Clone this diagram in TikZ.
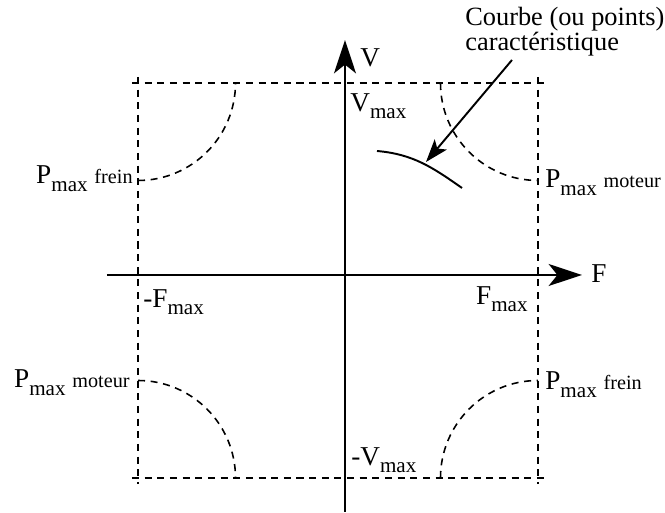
\documentclass[tikz,border=0pt]{standalone}
\usepackage{fontspec}
\setmainfont{Liberation Serif}
\usetikzlibrary{arrows.meta,positioning,calc}
\newcommand{\mx}{\raisebox{-4pt}{\fontsize{12}{12}\selectfont max}}
\newcommand{\pmx}[1]{P\mx\ \raisebox{0.5pt}{\fontsize{11.5}{12}\selectfont #1}}
\tikzset{
  axe/.style={-{Stealth[length=19pt,width=12.5pt,inset=5pt]},line width=1.1pt},
  cadre/.style={line width=0.9pt,dash pattern=on 4pt off 3.2pt},
  crb/.style={line width=1.1pt},
  fl/.style={-{Stealth[length=13pt,width=9pt,inset=3pt]},line width=1.1pt},
  lbl/.style={inner sep=0pt,font=\fontsize{15.5}{18}\selectfont}
}
\begin{document}
\begin{tikzpicture}
\useasboundingbox (-6.9,-4.76) rectangle (6.4,5.5);
% axes
\coordinate (xg) at (-4.76,0); \coordinate (xd) at (4.74,0);
\coordinate (yb) at (0,-4.74); \coordinate (yh) at (0,4.7);
\draw[axe] (xg) -- (xd);
\draw[axe] (yb) -- (yh);
% cadre
\coordinate (hg) at (-4.14,3.84); \coordinate (hd) at (3.86,3.84);
\coordinate (bg) at (-4.14,-4.06); \coordinate (bd) at (3.86,-4.06);
\draw[cadre] ($(hg)+(-0.12,0)$) -- ($(hd)+(0.12,0)$);
\draw[cadre] ($(bg)+(-0.12,0)$) -- ($(bd)+(0.12,0)$);
\draw[cadre] ($(hg)+(0,0.12)$) -- ($(bg)+(0,-0.12)$);
\draw[cadre] ($(hd)+(0,0.12)$) -- ($(bd)+(0,-0.12)$);
% puissance max
\draw[cadre] ($(hg)+(0,-1.95)$) arc[start angle=-90,end angle=0,radius=1.95];
\draw[cadre] ($(hd)+(-1.95,0)$) arc[start angle=180,end angle=270,radius=1.95];
\draw[cadre] ($(bg)+(0,1.95)$) arc[start angle=90,end angle=0,radius=1.95];
\draw[cadre] ($(bd)+(-1.95,0)$) arc[start angle=180,end angle=90,radius=1.95];
% labels
\node[lbl,anchor=west] (F) at (4.92,0.02) {F};
\node[lbl,anchor=west] (V) at (0.3,4.34) {V};
\node[lbl,anchor=north west] (Vmax) at (0.1,3.64) {V\mx};
\node[lbl,anchor=north west] (mVmax) at (0.12,-3.44) {-V\mx};
\node[lbl,anchor=north west] (mFmax) at (-4.04,-0.28) {-F\mx};
\node[lbl,anchor=north east] (Fmax) at (3.66,-0.22) {F\mx};
\node[lbl,anchor=base west] (PmHD) at (4.0,1.74) {\pmx{moteur}};
\node[lbl,anchor=base west] (PfBD) at (4.0,-2.3) {\pmx{frein}};
\node[lbl,anchor=base east] (PfHG) at (-4.24,1.82) {\pmx{frein}};
\node[lbl,anchor=base east] (PmBG) at (-4.3,-2.26) {\pmx{moteur}};
% courbe
\node[lbl,align=left,anchor=north west,font=\fontsize{15}{14}\selectfont] (note) at (2.4,5.36) {Courbe (ou points)\\caractéristique};
\draw[crb] (0.64,2.48) to[out=-5,in=145] (2.34,1.74);
\coordinate (cpt) at (1.62,2.26);
\coordinate (qa) at (3.34,4.3);
\draw[fl] (qa) -- (cpt);
\end{tikzpicture}
\end{document}
